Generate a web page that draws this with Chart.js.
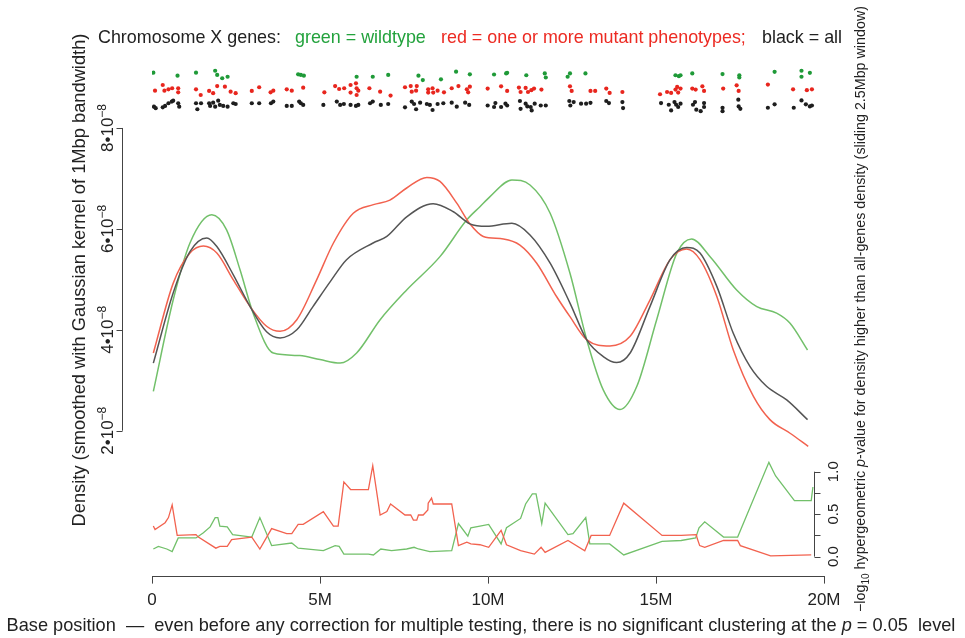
<!DOCTYPE html>
<html>
<head>
<meta charset="utf-8">
<script src="https://cdn.jsdelivr.net/npm/chart.js@4/dist/chart.umd.min.js"></script>
<style>
  html, body { margin: 0; padding: 0; background: #fff; }
  #wrap { width: 965px; height: 638px; }
</style>
</head>
<body>
<div id="wrap"><canvas id="chart" width="965" height="638"></canvas></div>
<script>
// gene positions along chromosome X (Mb) and their vertical jitter in the strip
// (lane: black ~0, red ~1, green ~2)
const greenGeneMb = [0.04,0.76,1.31,1.88,1.94,2.09,2.25,4.35,4.43,4.52,6.09,6.57,7.03,7.93,8.06,8.60,9.05,9.46,10.18,10.54,10.57,11.14,11.69,11.72,12.37,12.44,12.90,15.58,15.68,15.73,16.08,16.98,17.48,17.48,18.53,19.33,19.33,19.58];
const greenGeneLane = [2.12,1.92,2.12,2.25,1.97,1.75,1.85,2.01,1.97,1.92,1.85,1.85,1.97,1.92,1.63,1.68,2.19,2.01,2.00,2.07,2.11,1.95,2.07,1.80,1.85,2.07,2.07,1.95,1.89,1.95,2.07,2.03,1.95,1.80,2.18,2.25,1.85,2.11];

const redGeneMb = [0.09,0.32,0.37,0.49,0.60,0.78,0.78,1.31,1.45,1.70,1.82,1.94,2.17,2.34,2.49,2.97,3.19,3.53,3.61,4.01,4.16,4.50,5.13,5.45,5.57,5.72,5.91,5.91,6.07,6.09,6.14,6.09,6.47,6.79,7.10,7.53,7.70,7.88,7.73,7.86,8.22,8.35,8.22,8.37,8.50,8.69,8.92,9.12,9.37,9.41,9.46,9.99,10.39,10.57,10.92,10.97,11.12,11.19,11.29,11.37,11.59,12.44,12.49,13.05,13.19,13.52,13.62,14.00,15.12,15.33,15.45,15.58,15.63,15.66,15.73,16.08,16.18,16.38,16.43,17.00,17.40,17.46,18.33,19.08,19.49,19.64];
const redGeneLane = [0.92,1.30,0.92,1.01,1.08,1.08,0.81,1.01,0.63,0.90,0.75,1.23,1.19,0.85,0.75,0.90,1.15,0.81,0.92,1.01,0.92,1.12,0.81,1.23,1.03,1.08,0.79,1.30,1.41,1.08,0.92,0.63,1.08,0.85,0.59,1.15,1.23,1.23,0.85,0.92,1.01,1.08,0.79,0.79,0.92,0.81,1.08,1.23,1.01,0.81,1.19,1.06,1.21,0.90,1.13,0.83,1.10,0.83,0.95,1.06,0.99,1.21,0.90,0.90,0.90,1.06,0.77,0.83,0.68,0.83,0.77,0.99,1.17,0.79,1.06,1.06,0.99,1.21,0.90,1.06,1.28,0.90,1.33,1.01,0.95,1.01];

const allGeneMb = [0.06,0.11,0.32,0.39,0.49,0.59,0.63,0.78,0.81,1.31,1.35,1.46,1.70,1.73,1.82,1.88,1.97,2.02,2.12,2.25,2.42,2.49,2.97,3.19,3.54,3.61,4.01,4.16,4.38,4.43,4.50,5.10,5.50,5.60,5.71,5.91,6.07,6.14,6.49,6.57,6.81,7.03,7.53,7.73,7.80,7.86,7.98,8.18,8.27,8.35,8.50,8.67,8.92,9.07,9.32,9.44,9.99,10.18,10.22,10.39,10.52,10.57,10.95,10.97,11.12,11.17,11.27,11.30,11.39,11.57,11.72,12.42,12.45,12.55,12.77,12.92,13.05,13.52,13.60,14.00,14.02,15.15,15.38,15.45,15.55,15.60,15.66,15.73,16.10,16.16,16.20,16.33,16.43,16.43,16.98,16.98,17.45,17.46,17.51,18.33,18.53,19.10,19.33,19.46,19.58,19.64];
const allGeneLane = [-0.15,-0.25,-0.19,-0.10,0.08,0.19,0.25,0.08,-0.15,0.08,-0.32,0.08,0.08,-0.10,0.12,-0.15,0.25,-0.03,-0.10,-0.15,0.08,0.03,0.08,0.08,0.08,0.19,-0.10,-0.10,0.19,0.08,-0.03,-0.03,0.19,-0.03,0.03,-0.03,-0.10,-0.03,0.08,0.19,-0.03,0.03,-0.19,0.19,0.03,-0.32,0.12,0.03,-0.03,-0.37,0.03,0.08,0.12,-0.15,0.12,-0.03,-0.07,-0.17,0.09,-0.17,0.05,-0.07,0.23,-0.29,0.05,-0.13,-0.17,-0.40,0.05,-0.07,-0.07,0.23,-0.07,0.16,0.05,0.05,0.11,0.23,0.09,0.16,-0.24,0.09,-0.02,-0.40,0.16,-0.02,-0.17,0.05,-0.02,0.16,-0.35,-0.45,-0.17,0.09,-0.22,-0.45,0.32,-0.13,-0.29,-0.22,0.01,-0.22,0.27,0.01,-0.13,-0.07];

// smoothed gene density, in units of 1e-8
const densAllMb = [0.04,0.63,1.13,1.63,1.93,2.42,2.92,3.41,3.81,4.31,4.79,5.30,5.79,6.58,6.99,7.58,8.37,8.97,9.46,9.96,10.71,11.25,11.85,12.44,12.94,13.43,13.83,14.23,14.82,15.42,15.91,16.31,16.81,17.30,17.80,18.29,18.89,19.51];
const densAll = [3.34,4.73,5.55,5.82,5.65,5.09,4.46,3.96,3.84,4.00,4.46,4.95,5.39,5.72,5.85,6.24,6.50,6.34,6.10,6.05,6.11,5.88,5.32,4.53,3.80,3.47,3.35,3.54,4.46,5.39,5.63,5.52,4.86,3.93,3.27,2.88,2.61,2.22];
const densRedMb = [0.04,0.63,1.13,1.53,1.93,2.42,2.92,3.41,3.81,4.31,4.90,5.40,5.99,6.59,7.08,7.58,8.18,8.57,9.07,9.46,9.86,10.46,10.95,11.45,12.04,12.44,12.94,13.63,14.23,14.82,15.42,15.91,16.31,16.81,17.30,17.90,18.39,18.99,19.53];
const densRed = [3.54,4.92,5.52,5.66,5.52,4.99,4.46,4.07,3.97,4.20,4.99,5.72,6.31,6.48,6.57,6.81,7.02,6.94,6.51,6.10,5.85,5.80,5.68,5.32,4.66,4.26,3.80,3.68,3.87,4.59,5.39,5.60,5.39,4.66,3.60,2.68,2.22,1.95,1.69];
const densGreenMb = [0.04,0.63,1.13,1.78,2.22,2.62,3.01,3.61,4.40,5.00,5.60,6.09,6.79,7.58,8.57,9.37,9.76,10.06,10.71,11.25,11.85,12.44,12.94,13.43,13.93,14.43,15.02,15.62,16.06,16.61,17.40,18.00,18.59,18.99,19.51];
const densGreen = [2.78,4.59,5.72,6.28,5.98,5.19,4.33,3.54,3.49,3.41,3.34,3.54,4.20,4.79,5.45,6.18,6.44,6.64,6.97,6.87,6.31,5.12,3.80,2.81,2.42,2.88,4.20,5.52,5.80,5.45,4.79,4.46,4.33,4.13,3.60];

// -log10 hypergeometric p-value (sliding 2.5Mbp window)
const pRedMb = [0.04,0.09,0.39,0.49,0.60,0.75,1.31,1.38,1.90,2.02,2.24,2.37,2.97,3.21,3.56,4.01,4.16,4.35,4.50,5.10,5.40,5.54,5.71,5.91,6.44,6.57,6.79,6.99,7.10,7.53,7.70,7.78,7.88,7.93,8.07,8.21,8.22,8.32,8.37,8.92,9.12,9.37,9.49,9.76,10.02,10.39,10.55,10.97,11.38,11.58,11.70,12.38,12.88,13.07,13.62,14.04,15.18,15.75,16.20,16.23,16.30,16.45,17.01,17.43,17.51,18.41,19.62];
const pRed = [0.36,0.32,0.40,0.46,0.61,0.25,0.26,0.23,0.10,0.12,0.12,0.20,0.23,0.09,0.33,0.27,0.27,0.38,0.38,0.53,0.36,0.36,0.88,0.79,0.79,1.07,0.49,0.53,0.62,0.49,0.49,0.43,0.43,0.49,0.49,0.55,0.63,0.69,0.62,0.62,0.13,0.17,0.15,0.14,0.11,0.31,0.14,0.07,0.03,0.11,0.05,0.19,0.07,0.25,0.25,0.63,0.25,0.25,0.26,0.21,0.13,0.11,0.19,0.19,0.13,0.01,0.02];
const pGreenMb = [0.04,0.19,0.44,0.60,0.78,1.31,1.53,1.73,1.88,1.96,2.02,2.24,2.40,2.97,3.21,3.56,4.16,4.35,5.10,5.45,5.57,5.71,6.44,6.59,6.81,7.13,7.58,7.80,7.93,8.27,8.92,9.12,9.40,9.49,9.76,10.02,10.39,10.55,10.97,11.12,11.32,11.43,11.60,11.70,12.38,12.53,12.91,13.03,13.62,14.04,15.18,15.75,16.18,16.28,16.45,17.01,17.43,18.36,18.56,19.12,19.62,19.67];
const pGreen = [0.09,0.12,0.09,0.06,0.22,0.22,0.28,0.35,0.46,0.46,0.36,0.35,0.26,0.23,0.46,0.13,0.16,0.10,0.07,0.13,0.12,0.03,0.03,0.02,0.09,0.07,0.09,0.11,0.09,0.06,0.07,0.39,0.24,0.34,0.36,0.38,0.15,0.34,0.45,0.62,0.74,0.74,0.39,0.63,0.26,0.27,0.46,0.15,0.15,0.02,0.18,0.19,0.22,0.34,0.41,0.23,0.23,1.11,0.95,0.66,0.66,0.82];

// tick labels
const xTicks = [0, 5, 10, 15, 20];
const densityTicks = [2, 4, 6, 8];
const pTicks = [0, 0.25, 0.5, 0.75, 1];
const pTickLabels = { 0: '0.0', 0.5: '0.5', 1: '1.0' };

const FONT = '"Liberation Sans", Arial, sans-serif';
const GREEN = '#22a23c', RED = '#ec2a22';

const pts = (xs, ys) => xs.map((x, i) => ({ x: x, y: ys[i] }));

// draw a run of text pieces (different fonts / colours / raise) in one line
function drawPieces(ctx, pieces, x, y, align) {
  let total = 0;
  pieces.forEach(p => { ctx.font = p.font; p.w = ctx.measureText(p.t).width; total += p.w; });
  let cx = align === 'center' ? x - total / 2 : x;
  ctx.textAlign = 'left';
  ctx.textBaseline = 'alphabetic';
  pieces.forEach(p => {
    ctx.font = p.font;
    ctx.fillStyle = p.color || '#222';
    ctx.fillText(p.t, cx, y + (p.dy || 0));
    cx += p.w;
  });
}

function rotated(ctx, x, y, fn) {
  ctx.save();
  ctx.translate(x, y);
  ctx.rotate(-Math.PI / 2);
  fn();
  ctx.restore();
}

// R-style axes and all the free text
const rAxes = {
  id: 'rAxes',
  afterDraw(chart) {
    const ctx = chart.ctx;
    const area = chart.chartArea;
    const yd = chart.scales.y, yp = chart.scales.yp;
    ctx.save();
    ctx.strokeStyle = '#444';
    ctx.lineWidth = 1;

    // left density axis
    const lx = area.left - 29.5;
    ctx.beginPath();
    ctx.moveTo(lx, yd.getPixelForValue(densityTicks[0]));
    ctx.lineTo(lx, yd.getPixelForValue(densityTicks[densityTicks.length - 1]));
    densityTicks.forEach(v => {
      const py = Math.round(yd.getPixelForValue(v)) + 0.5;
      ctx.moveTo(lx, py); ctx.lineTo(lx - 6, py);
    });
    ctx.stroke();
    densityTicks.forEach(v => {
      rotated(ctx, 113, yd.getPixelForValue(v), () => {
        drawPieces(ctx, [
          { t: v + '\u2022' + '10', font: '17px ' + FONT },
          { t: '\u22128', font: '12px ' + FONT, dy: -7 }
        ], 0, 0, 'center');
      });
    });

    // right p-value axis
    const rx = area.right - 9.5;
    ctx.beginPath();
    ctx.moveTo(rx, yp.getPixelForValue(pTicks[0]));
    ctx.lineTo(rx, yp.getPixelForValue(pTicks[pTicks.length - 1]));
    pTicks.forEach(v => {
      const py = Math.round(yp.getPixelForValue(v)) + 0.5;
      ctx.moveTo(rx, py); ctx.lineTo(rx + 6, py);
    });
    ctx.stroke();
    pTicks.forEach(v => {
      if (pTickLabels[v] === undefined) return;
      rotated(ctx, 838, yp.getPixelForValue(v), () => {
        drawPieces(ctx, [{ t: pTickLabels[v], font: '15px ' + FONT }], 0, 0, 'center');
      });
    });

    // axis titles
    rotated(ctx, 85, 280, () => {
      drawPieces(ctx, [{ t: 'Density (smoothed with Gaussian kernel of 1Mbp bandwidth)', font: '18.3px ' + FONT }], 0, 0, 'center');
    });
    rotated(ctx, 865, 309, () => {
      drawPieces(ctx, [
        { t: '\u2212log', font: '14.3px ' + FONT },
        { t: '10', font: '10px ' + FONT, dy: 4 },
        { t: ' hypergeometric ', font: '14.3px ' + FONT },
        { t: 'p', font: 'italic 14.3px ' + FONT },
        { t: '-value for density higher than all-genes density (sliding 2.5Mbp window)', font: '14.3px ' + FONT }
      ], 0, 0, 'center');
    });

    // header
    const hf = '17.9px ' + FONT;
    drawPieces(ctx, [{ t: 'Chromosome X genes:', font: hf }], 98, 43);
    drawPieces(ctx, [{ t: 'green = wildtype', font: hf, color: GREEN }], 295, 43);
    drawPieces(ctx, [{ t: 'red = one or more mutant phenotypes;', font: hf, color: RED }], 441, 43);
    drawPieces(ctx, [{ t: 'black = all', font: hf }], 762, 43);

    // caption
    const cf = '18.2px ' + FONT;
    drawPieces(ctx, [
      { t: 'Base position  \u2014  even before any correction for multiple testing, there is no significant clustering at the ', font: cf },
      { t: 'p', font: 'italic ' + cf },
      { t: ' = 0.05  level', font: cf }
    ], 481, 631, 'center');
    ctx.restore();
  }
};

const lineBase = { showLine: true, pointRadius: 0, borderWidth: 1.5, fill: false };

new Chart(document.getElementById('chart'), {
  type: 'scatter',
  data: {
    datasets: [
      { label: 'all genes', data: pts(allGeneMb, allGeneLane), yAxisID: 'ys', pointRadius: 2.1, pointBorderWidth: 0, backgroundColor: '#1e1e1e' },
      { label: 'mutant genes', data: pts(redGeneMb, redGeneLane), yAxisID: 'ys', pointRadius: 2.1, pointBorderWidth: 0, backgroundColor: '#e8261e' },
      { label: 'wildtype genes', data: pts(greenGeneMb, greenGeneLane), yAxisID: 'ys', pointRadius: 2.1, pointBorderWidth: 0, backgroundColor: '#1f9a38' },

      { ...lineBase, label: 'density all', data: pts(densAllMb, densAll), yAxisID: 'y', borderColor: '#555555', cubicInterpolationMode: 'monotone' },
      { ...lineBase, label: 'density mutant', data: pts(densRedMb, densRed), yAxisID: 'y', borderColor: '#f2624f', cubicInterpolationMode: 'monotone' },
      { ...lineBase, label: 'density wildtype', data: pts(densGreenMb, densGreen), yAxisID: 'y', borderColor: '#72c06a', cubicInterpolationMode: 'monotone' },

      { ...lineBase, label: 'p mutant', data: pts(pRedMb, pRed), yAxisID: 'yp', borderColor: '#f2624f', borderWidth: 1.3, tension: 0 },
      { ...lineBase, label: 'p wildtype', data: pts(pGreenMb, pGreen), yAxisID: 'yp', borderColor: '#72c06a', borderWidth: 1.3, tension: 0 }
    ]
  },
  options: {
    responsive: false,
    animation: false,
    devicePixelRatio: 1,
    layout: { padding: { left: 152, right: 141, top: 55, bottom: 20 } },
    plugins: { legend: { display: false }, tooltip: { enabled: false } },
    scales: {
      x: {
        type: 'linear', min: 0, max: 20,
        afterBuildTicks: s => { s.ticks = xTicks.map(v => ({ value: v })); },
        ticks: { callback: v => (v === 0 ? '0' : v + 'M'), color: '#222', font: { family: FONT, size: 17 }, padding: 7, maxRotation: 0 },
        grid: { drawOnChartArea: false, drawTicks: true, tickLength: 7, color: '#444' },
        border: { display: true, color: '#444', width: 1 }
      },
      y: { display: false, min: -0.891, max: 9.446 },
      yp: { display: false, position: 'right', min: -0.235, max: 5.906 },
      ys: { display: false, min: -31.5, max: 3.3 }
    }
  },
  plugins: [rAxes]
});
</script>
</body>
</html>
